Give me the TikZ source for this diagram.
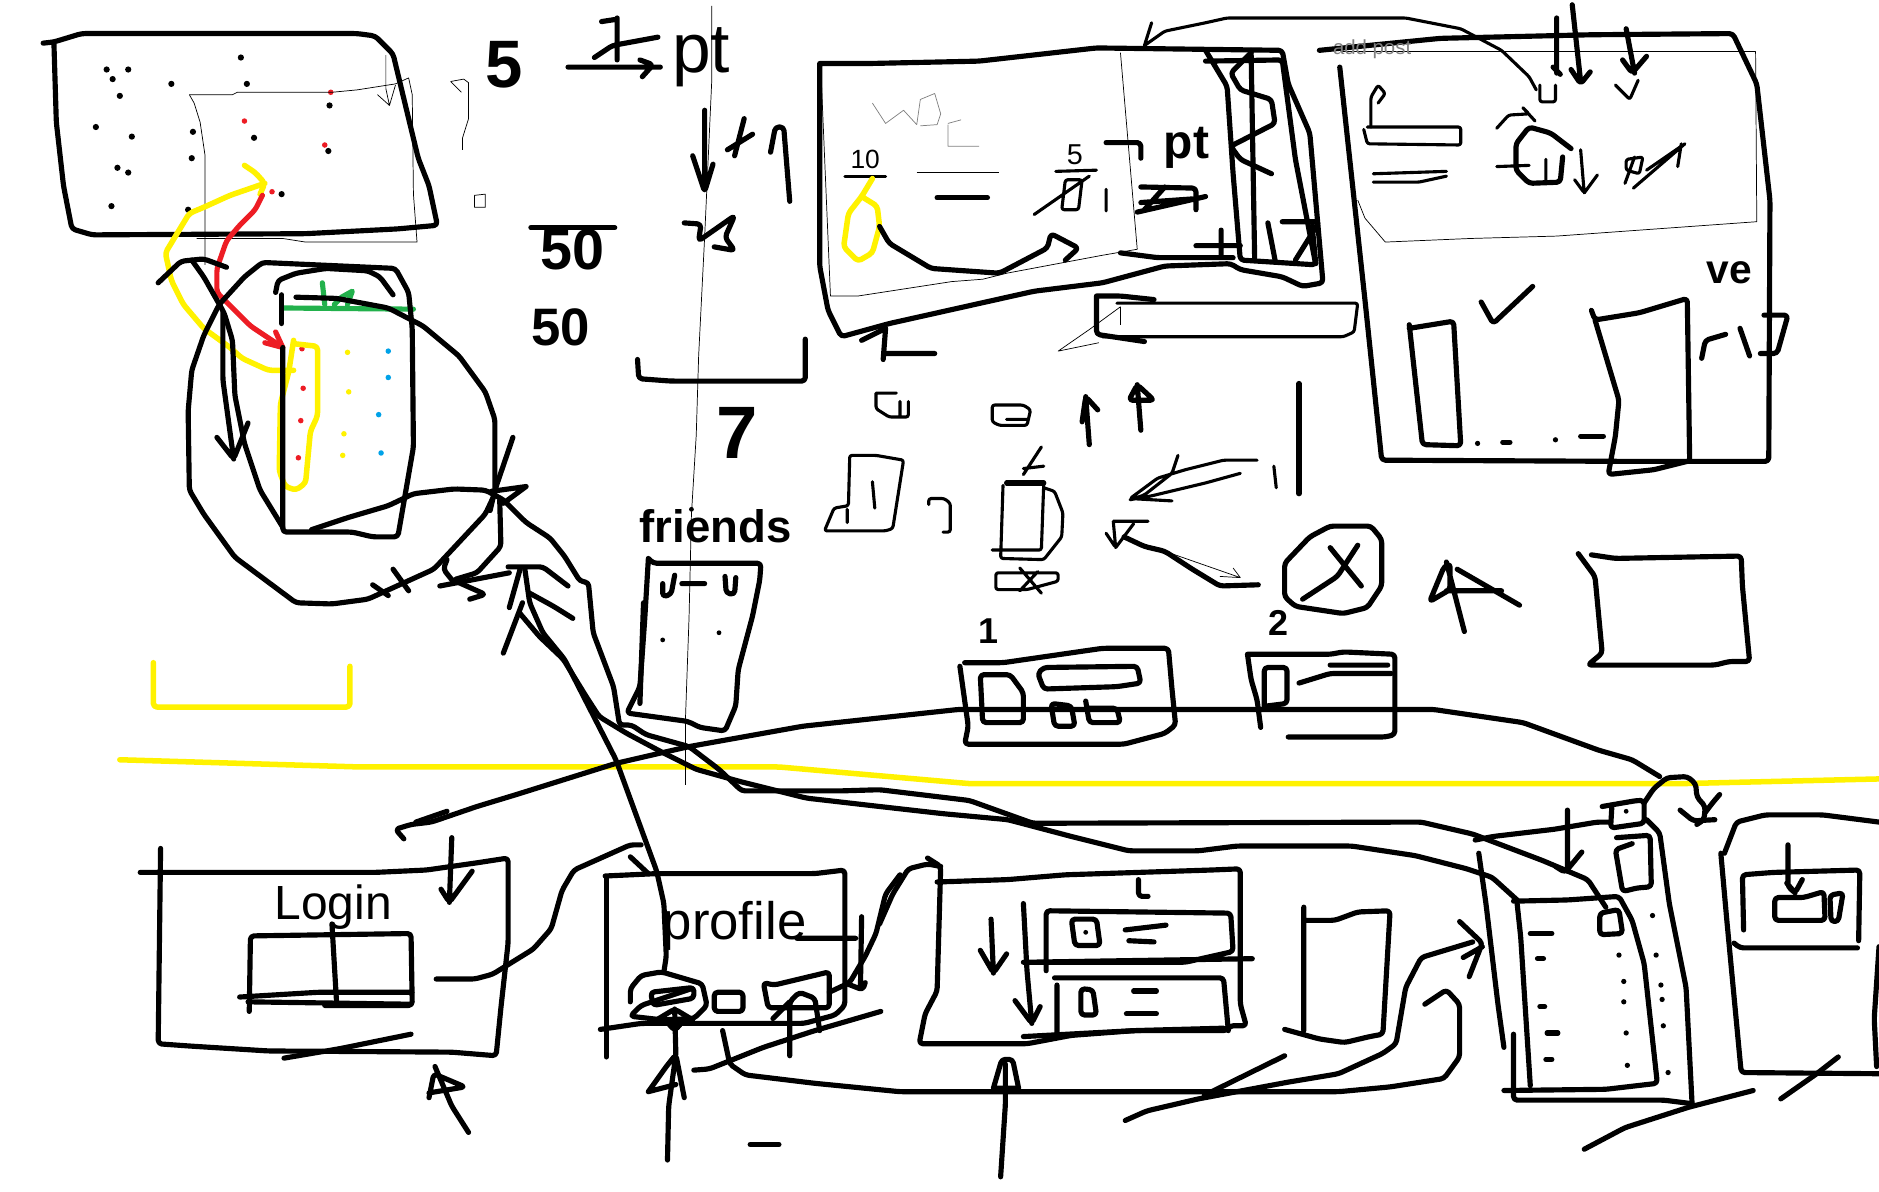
\documentclass[tikz,border=0pt]{standalone}
\usepackage{fontspec}
\setmainfont{Liberation Sans}
\usepackage{xcolor}
\usetikzlibrary{positioning}
\definecolor{marker}{HTML}{FFF200}
\definecolor{redpen}{HTML}{ED1C24}
\definecolor{greenpen}{HTML}{22B14C}
\definecolor{bluepen}{HTML}{00A2E8}
\newcommand{\hw}[1]{\fontsize{#1}{#1}\selectfont}

\begin{document}
\begin{tikzpicture}[x=1pt,y=-1pt,
  ink/.style={line width=4.3pt,line cap=round,line join=round,rounded corners=3pt,black},
  pen/.style={line width=2.6pt,line cap=round,line join=round,rounded corners=2pt,black},
  hair/.style={line width=0.6pt,line join=round,black},
  faint/.style={line width=0.6pt,line join=round,gray},
  yel/.style={line width=4.6pt,line cap=round,line join=round,rounded corners=3pt,marker},
  rdp/.style={line width=4.3pt,line cap=round,line join=round,rounded corners=3pt,redpen},
  grn/.style={line width=4.3pt,line cap=round,line join=round,greenpen},
  hand/.style={inner sep=0pt,black}]
\useasboundingbox (0,0) rectangle (1568,994);
\fill[white] (0,0) rectangle (1568,994);
\draw[yel] (100,634)--(300,640)--(650,640)--(810,654)--(1400,654)--(1568,650);
\draw[yel] (128,553)--(128,590)--(292,590)--(292,556);
\draw[hair] (594,5)--(594,66)--(588,198)--(583,297)--(581,363)--(577,429)--(575,515)--(572,600)--(572,655);

\draw[ink] (36,36)--(45,35)--(68,28)--(298,28)--(313,30)--(328,45)--(341,99)--(349,132)--(358,155)--(365,188)--(332,191)--(255,195)--(77,196)--(60,191)--(53,155)--(47,102)--(45,36);
\foreach \px/\py in {89/58,107/58,94/66,100/80,143/70,201/48,206/70,80/106,110/114,161/110,160/132,212/115,275/88,274/126,98/140,107/144,93/172,157/175,235/162}
  \fill (\px,\py) circle (2.6pt);
\foreach \px/\py in {276/77,204/101,271/121,227/160,252/291,253/324,251/351,249/382}
  \fill[redpen] (\px,\py) circle (2.3pt);
\foreach \px/\py in {290/294,291/327,287/362,286/380}
  \fill[marker] (\px,\py) circle (2.3pt);
\foreach \px/\py in {324/293,324/315,316/346,318/378}
  \fill[bluepen] (\px,\py) circle (2.3pt);
\draw[hair] (158,79)--(194,79)--(198,77)--(277,77)--(298,75)--(330,70)--(341,65)--(344,79)--(345,162)--(348,202)--(255,202)--(236,199)--(164,199);
\draw[hair] (158,79)--(162,86)--(167,102)--(171,129)--(171,221);
\draw[hair] (322,46)--(322,74)--(325,88)--(330,71) (315,79)--(325,88);
\draw[hair] (376,68)--(387,66)--(391,69)--(391,99)--(386,115)--(386,125) (376,68)--(385,77);
\draw[hair] (396,163)--(405,162)--(405,173)--(396,173)--cycle;

\node[hand,font=\hw{56}\bfseries] (five) at (421,54) {5};
\draw[ink] (474,56)--(551,56) (534,50)--(545,54)--(536,64);
\draw[ink] (515,15)--(515,50) (502,18)--(515,16) (496,48)--(511,38)--(549,31);
\node[hand,font=\hw{58}] (ptone) at (585,48) {pt};
\draw[ink] (588,92)--(588,158) (578,130)--(588,160)--(595,137);
\draw[ink] (607,125)--(628,112) (613,130)--(621,99);
\draw[ink] (643,127)--(647,106)--(654,106)--(659,168);
\draw[ink] (571,186)--(585,187)--(583,201)--(613,180)--(605,198)--(613,209)--(596,206);
\draw[ink] (443,190)--(513,190);
\node[hand,font=\hw{48}\bfseries] (fiftyone) at (478,208) {50};
\node[hand,font=\hw{44}\bfseries] (fiftytwo) at (468,273) {50};
\draw[ink] (532,300)--(533,316)--(560,318)--(672,318)--(672,283);
\node[hand,font=\hw{62}\bfseries] (seven) at (615,361) {7};

\draw[yel] (204,138)--(213,144)--(221,153)--(217,162) (221,153)--(192,163)--(170,173)--(158,178)--(138,211)--(143,234)--(153,254)--(170,274)--(192,290)--(202,299)--(224,309)--(245,309);
\draw[yel] (245,284)--(241,310)--(234,337)--(233,393)--(238,406)--(247,409)--(255,403)--(259,360)--(265,347)--(265,289)--(247,287);
\draw[rdp] (219,163)--(213,175)--(200,188)--(189,201)--(181,224)--(181,244)--(196,259)--(209,272)--(236,290);
\draw[rdp,rounded corners=0pt] (221,286)--(236,290)--(230,277);
\draw[grn] (236,257)--(345,258) (269,236)--(271,254) (279,254)--(285,248)--(294,243)--(290,254);

\draw[ink] (328,246)--(317,231)--(307,226)--(272,224)--(247,228)--(232,234)--(230,244);
\draw[ink] (235,246)--(235,270);
\draw[ink] (236,290)--(236,444)--(294,444)--(311,448)--(332,448)--(345,373)--(344,274)--(341,244)--(330,224)--(219,219)--(204,231)--(183,254)--(170,280)--(160,309)--(157,343)--(158,409)--(170,429)--(196,465)--(247,503)--(277,504)--(307,500)--(362,475)--(405,429)--(413,412)--(413,350)--(405,327)--(383,297)--(353,272)--(324,257)--(281,249)--(247,248);
\draw[ink] (236,440)--(217,409)--(204,370)--(196,330)--(194,284)--(187,261)--(170,231)--(160,217);
\draw[ink] (132,236)--(151,218)--(170,216)--(189,223);
\draw[ink] (186,261)--(186,317)--(195,383) (181,365)--(195,383)--(207,353);
\draw[ink] (260,442)--(290,432)--(324,422)--(345,412)--(379,408)--(405,409)--(420,417)--(439,436)--(459,449)--(471,464)--(484,485)--(491,486)--(495,528)--(512,573)--(517,605)--(527,605)--(539,613)--(575,623)--(600,642)--(619,660)--(701,660)--(734,659)--(809,668)--(862,687)--(1186,686)--(1229,696)--(1287,718)--(1325,734)--(1340,757);
\draw[ink] (434,512)--(450,531)--(470,550)--(489,581)--(500,598)--(523,612)--(553,628)--(581,642)--(617,652)--(673,666)--(734,673)--(787,679)--(841,684)--(894,698)--(942,710)--(1000,710)--(1032,706)--(1128,706)--(1181,714)--(1224,725)--(1245,732)--(1266,751);
\draw[ink] (438,475)--(442,503)--(453,528)--(471,550)--(514,634)--(548,727)--(554,754)--(556,798)--(554,811);
\draw[ink] (425,507)--(434,475) (424,473)--(453,473)--(474,489) (420,545)--(436,503) (442,495)--(462,506)--(478,516);
\draw[ink] (367,489)--(425,478);
\draw[ink] (417,417)--(418,456)--(398,478)--(378,484)--(405,496)--(392,500) (373,467)--(370,475)--(378,485);
\draw[ink] (410,410)--(439,406) (439,406)--(420,420) (428,365)--(413,409)--(409,426);
\draw[ink] (328,475)--(341,493) (311,488)--(324,497);
\draw[ink] (337,700)--(330,692)--(343,688)--(360,686)--(398,673)--(431,663)--(514,637)--(553,628)--(575,623)--(670,606)--(800,592)--(1196,592)--(1271,603)--(1334,626)--(1362,634)--(1385,648);
\draw[ink] (373,677)--(347,686);

\node[hand,font=\hw{38}\bfseries] (friends) at (597,439) {friends};
\draw[ink] (541,466)--(545,470)--(635,470)--(634,484)--(628,514)--(616,559)--(614,589)--(605,610)--(584,607)--(574,602)--(523,595)--(534,573)--(538,517)--(541,467);
\draw[ink] (537,503)--(534,587);
\draw[ink] (553,487)--(553,498)--(560,496)--(563,480) (569,487)--(588,487) (605,481)--(606,495)--(613,496)--(614,482);
\fill (553,534) circle (2pt) (600,528) circle (2pt) (577,425) circle (2pt);

\draw[ink] (684,53)--(725,53)--(817,51)--(915,40)--(1070,42)--(1075,70)--(1093,111)--(1104,236)--(1087,239)--(1070,231)--(1035,225)--(1027,220)--(972,222)--(920,236)--(863,243)--(742,270)--(702,281)--(691,259)--(684,222)--(684,53);
\draw[ink] (1006,42)--(1024,72)--(1029,145)--(1035,217)--(1098,221)--(1081,133)--(1070,50)--(1006,51);
\draw[ink] (1044,42)--(1047,217);
\draw[ink] (1044,44)--(1027,61)--(1035,75)--(1061,83)--(1064,103)--(1027,122)--(1035,133)--(1061,145);
\draw[ink] (1058,186)--(1064,217) (1070,185)--(1101,185)--(1081,217) (1095,189)--(1098,220);
\draw[ink] (998,205)--(1035,205) (1019,192)--(1019,214) (935,211)--(966,215)--(1029,215);
\draw[hair] (685,58)--(693,247)--(716,247)--(794,235)--(820,233)--(840,228)--(920,213)--(949,208)--(935,44);
\draw[faint] (728,86)--(739,103)--(754,92)--(765,104)--(768,83)--(780,78)--(785,95)--(782,104)--(768,105) (791,103)--(802,100) (791,104)--(791,122)--(817,122);
\node[hand,font=\hw{22}] (tenlabel) at (722,133) {10};
\draw[pen] (705,147)--(739,147);
\draw[hair] (765,144)--(834,144);
\draw[ink] (782,165)--(824,165);
\draw[yel] (728,149)--(719,164)--(708,178)--(704,206)--(716,218)--(728,211)--(734,189)--(732,172)--(719,164);
\draw[ink] (734,189)--(742,203)--(777,224)--(834,228)--(874,207)--(877,195)--(900,207)--(889,217);
\node[hand,font=\hw{24}] (fivesmall) at (897,129) {5};
\draw[pen] (881,143)--(915,142);
\draw[pen] (889,150)--(903,150)--(900,175)--(886,175)--cycle (863,179)--(909,147) (923,158)--(923,176);
\draw[ink] (923,119)--(952,119)--(952,132);
\node[hand,font=\hw{40}\bfseries] (pttwo) at (990,123) {pt};
\draw[ink] (949,177)--(1006,164) (952,156)--(998,157)--(998,175) (955,175)--(972,156) (952,169)--(995,166);
\draw[ink] (915,247)--(935,247)--(963,250) (915,247)--(915,279)--(955,285);
\draw[pen] (932,253)--(1133,253)--(1130,277)--(1121,281)--(920,281);
\draw[hair] (935,256)--(909,275)--(883,293)--(917,286) (935,256)--(935,271);
\draw[ink] (739,274)--(737,300) (719,284)--(739,274) (739,295)--(780,295);
\draw[pen] (955,38)--(961,19) (955,38)--(972,26)--(1006,19)--(1024,15)--(1173,15)--(1219,24)--(1253,42)--(1276,64)--(1282,75);
\draw[pen] (1285,71)--(1285,85)--(1298,85)--(1298,71);

\draw[ink] (1101,42)--(1202,32)--(1328,29)--(1446,28)--(1466,70)--(1477,167)--(1476,385)--(1357,385)--(1153,384)--(1139,250)--(1118,56);
\draw[hair] (1119,43)--(1465,43)--(1466,185)--(1299,197)--(1227,199)--(1156,202)--(1139,182)--(1133,167);
\node[hand,font=\hw{17},text=gray] (addpost) at (1145,41) {add post};
\draw[ink] (1299,15)--(1299,61) (1296,56)--(1302,62) (1312,4)--(1319,68) (1311,58)--(1319,70)--(1327,60);
\draw[ink] (1357,24)--(1364,61) (1354,50)--(1362,61)--(1374,47);
\draw[pen] (1348,71)--(1360,83)--(1367,67);
\draw[pen] (1144,106)--(1144,81)--(1150,71)--(1156,78)--(1150,86);
\draw[pen] (1141,106)--(1219,106)--(1219,121)--(1141,120)--(1138,108);
\draw[pen] (1146,145)--(1207,143) (1146,152)--(1184,152)--(1207,147);
\draw[ink] (1311,124)--(1294,111)--(1276,106)--(1265,120)--(1265,142)--(1276,153)--(1302,152)--(1304,131);
\draw[pen] (1249,139)--(1276,138) (1290,133)--(1290,151);
\draw[pen] (1249,107)--(1259,96)--(1276,95)--(1270,89)--(1281,101);
\draw[pen] (1319,125)--(1322,161)--(1314,150) (1322,161)--(1333,146);
\draw[pen] (1357,133)--(1371,131)--(1368,145)--(1357,142)--cycle (1356,153)--(1364,131) (1363,157)--(1406,120) (1374,142)--(1403,122) (1400,139)--(1403,120);
\draw[ink] (1236,252)--(1246,270)--(1279,239);
\draw[ink] (1176,274)--(1213,268)--(1219,372)--(1187,371)--(1176,271);
\fill (1233,370) circle (2.2pt) (1298,367) circle (2.2pt);
\draw[ink] (1254,369)--(1260,369) (1319,364)--(1338,364);
\draw[ink] (1328,259)--(1331,267)--(1368,261)--(1408,249)--(1410,385);
\draw[ink] (1331,267)--(1351,334)--(1348,364)--(1342,396)--(1380,392)--(1408,385);
\node[hand,font=\hw{34}\bfseries] (vetext) at (1443,228) {ve};
\draw[ink] (1420,299)--(1423,284)--(1440,279) (1452,274)--(1460,297) (1472,263)--(1492,263)--(1483,295)--(1469,295);

\draw[pen] (731,328)--(748,328) (731,328)--(731,341)--(742,348)--(758,348)--(758,335) (751,335)--(751,348);
\draw[pen] (828,338)--(854,338)--(860,342)--(857,355)--(834,355)--(828,352)--cycle (840,350)--(857,350);
\draw[ink] (909,371)--(906,331) (903,352)--(906,331)--(916,342);
\draw[ink] (952,359)--(949,321) (942,334)--(949,321)--(963,334)--cycle;
\draw[ink] (1084,320)--(1084,412);
\draw[pen] (1063,389)--(1065,407);
\draw[pen] (709,384)--(709,380)--(731,380)--(754,384)--(745,441)--(739,443)--(688,443)--(696,424)--(708,422)--(709,384) (728,402)--(730,424) (707,425)--(707,436);
\draw[pen] (775,421)--(775,416)--(788,416)--(793,420)--(793,444)--(787,444);
\draw[pen] (869,373)--(854,396) (854,391)--(871,389);
\draw[pen] (840,403)--(871,403)--(869,459)--(828,459) (837,405)--(835,466)--(871,467)--(886,448)--(887,428)--(880,410)--(871,407);
\draw[ink] (840,403)--(871,403);
\draw[pen] (831,478)--(831,492)--(857,492)--(883,485)--(883,478)--cycle (851,474)--(869,495) (866,477)--(851,493);
\draw[pen] (1049,384)--(1021,384)--(989,392)--(966,399)--(943,416)--(978,418) (983,380)--(978,395)--(955,413)--(946,416) (1035,395)--(1006,403)--(960,414)--(943,417);
\draw[pen] (929,435)--(958,435) (929,435)--(931,457)--(923,445) (931,457)--(946,437);
\draw[ink] (938,448)--(955,456)--(972,460)--(995,475)--(1018,489)--(1050,488);
\draw[hair] (938,449)--(972,460)--(1035,482)--(1029,474) (1035,482)--(1018,481);
\draw[ink] (1110,439)--(1144,439)--(1153,450)--(1153,489)--(1141,507)--(1121,512)--(1081,506)--(1072,498)--(1072,470)--(1093,448)--cycle;
\draw[ink] (1110,457)--(1136,489) (1133,455)--(1116,481)--(1087,500);
\draw[ink] (1207,469)--(1222,527) (1193,502)--(1205,473)--(1210,470)--(1210,492)--cycle (1216,475)--(1268,505) (1207,493)--(1253,493);
\draw[ink] (1317,462)--(1331,481)--(1337,545)--(1325,555)--(1431,555)--(1443,552)--(1460,552)--(1454,489)--(1453,464)--(1348,466)--(1328,463);
\node[hand,font=\hw{30}\bfseries] (cardone) at (825,527) {1};
\node[hand,font=\hw{30}\bfseries] (cardtwo) at (1067,520) {2};
\draw[ink] (805,553)--(837,553)--(920,541)--(975,541)--(978,575)--(981,605)--(972,612)--(938,621)--(805,621)--(808,606)--(801,556);
\draw[ink] (820,603)--(818,563)--(843,563)--(854,578)--(854,603)--cycle;
\draw[ink] (866,562)--(871,557)--(949,556)--(952,570)--(932,573)--(871,575)--cycle;
\draw[ink] (877,587)--(894,589)--(897,606)--(880,606)--cycle (906,585)--(909,603)--(935,603)--(932,591)--(909,591);
\draw[ink] (1041,546)--(1110,546)--(1121,544)--(1164,546)--(1164,613)--(1156,615)--(1075,615) (1041,546)--(1044,567)--(1049,584)--(1052,607);
\draw[ink] (1055,591)--(1055,557)--(1074,557)--(1074,587)--(1058,589) (1084,570)--(1110,562)--(1161,562) (1110,555)--(1158,555);

\node[hand,font=\hw{40}] (login) at (278,757) {Login};
\draw[ink] (117,728)--(313,728)--(356,726)--(398,720)--(424,716)--(424,787)--(418,841)--(414,881)--(377,878)--(224,877)--(160,873)--(132,871)--(134,708);
\draw[ink] (377,699)--(375,753) (368,742)--(375,753)--(394,727);
\draw[ink] (208,844)--(209,781)--(343,779)--(344,839)--(271,839) (200,832)--(266,828)--(344,828) (207,836)--(343,838);
\draw[ink] (277,771)--(281,839);
\draw[ink] (237,883)--(284,875)--(343,863);
\draw[ink] (363,890)--(377,923)--(391,945) (358,916)--(362,896)--(388,907)--(358,912);
\draw[ink] (364,817)--(396,817)--(411,813)--(445,792)--(460,775)--(469,743)--(479,726)--(526,705)--(535,705) (526,715)--(541,729);

\node[hand,font=\hw{44}] (profile) at (613,773) {profile};
\draw[ink] (505,731)--(548,729)--(680,729)--(705,726)--(705,839)--(697,847)--(671,854)--(535,854)--(501,859);
\draw[ink] (506,733)--(506,882);
\draw[ink] (665,783)--(714,783) (719,765)--(718,825) (707,821)--(720,826)--(722,820);
\draw[ink] (526,836)--(526,825)--(535,814)--(552,811)--(586,821)--(590,839)--(579,850)--(552,851)--(526,848)--(535,839)--(577,825);
\draw[ink] (543,828)--(579,824)--(579,833)--(545,839)--cycle;
\draw[ink] (548,851)--(563,842)--(578,851) (555,851)--(563,860)--(571,851);
\draw[ink] (596,828)--(620,828)--(620,844)--(596,844)--cycle;
\draw[ink] (637,820)--(646,822)--(692,811)--(692,841)--(641,841)--cycle;
\draw[ink] (659,881)--(659,836)--(667,828)--(680,833)--(684,860) (645,850)--(659,836);
\draw[ink] (557,968)--(558,923)--(564,880)--(563,842) (541,911)--(556,890)--(564,880)--(571,916) (541,911)--(564,905);
\draw[ink] (626,955)--(650,955);
\draw[ink] (579,893)--(592,892)--(637,874)--(680,860)--(735,844);
\draw[ink] (751,730)--(739,746)--(731,779)--(722,798)--(709,820)--(692,828);

\draw[ink] (774,716)--(785,723)--(782,827)--(772,846)--(767,871)--(857,871)--(894,864)--(947,860)--(1024,860)--(1026,856)--(1040,856)--(1035,838)--(1035,725)--(1011,726)--(889,730)--(841,734)--(782,736);
\draw[ink] (734,771)--(745,746)--(758,725)--(774,721)--(785,723);
\draw[ink] (873,810)--(873,760)--(1027,762)--(1029,794)--(989,803)--(854,803) (854,803)--(1045,800);
\draw[ink] (854,754)--(857,810)--(861,854) (847,835)--(861,854)--(868,840);
\draw[ink] (827,767)--(829,812) (818,793)--(829,812)--(840,796);
\draw[ink] (880,816)--(1021,816)--(1025,860) (882,822)--(882,861) (854,865)--(947,860)--(1021,858);
\draw[ink] (894,767)--(915,767)--(918,789)--(897,789)--cycle;
\fill (906,778) circle (2pt);
\draw[ink] (939,776)--(973,772) (942,785)--(963,786);
\draw[ink] (902,825)--(912,826)--(915,847)--(902,847)--cycle;
\draw[ink] (946,827)--(965,827) (940,846)--(965,846);
\draw[ink] (950,734)--(950,748)--(958,748);
\draw[ink] (835,982)--(839,921)--(839,888);
\draw[ink] (829,908)--(836,884)--(845,884)--(850,908) (829,908)--(850,908);
\draw[ink] (1088,757)--(1088,860) (1088,768)--(1114,768)--(1133,761)--(1160,760)--(1154,863)--(1143,865)--(1122,870)--(1101,867)--(1072,859);
\draw[ink] (603,860)--(609,888)--(622,897)--(680,904)--(751,911)--(1117,911)--(1160,907)--(1205,900)--(1218,882)--(1218,838)--(1207,826)--(1189,838);
\draw[ink] (939,935)--(957,927)--(1000,917)--(1075,903)--(1117,896)--(1154,879)--(1165,871)--(1173,824)--(1186,799)--(1229,786);
\draw[ink] (1218,769)--(1237,787)--(1226,815) (1221,799)--(1237,790);
\draw[ink] (1005,914)--(1072,881);

\draw[ink] (1263,752)--(1308,751)--(1351,748)--(1362,768)--(1372,804)--(1383,904)--(1340,909)--(1255,910);
\draw[ink] (1266,754)--(1269,782)--(1277,906);
\draw[ink] (1263,863)--(1263,918)--(1388,918)--(1412,921);
\draw[ink] (1322,959)--(1356,941)--(1409,924)--(1463,910);
\draw[ink] (1335,762)--(1351,759)--(1354,779)--(1335,780)--cycle;
\draw[ink] (1277,779)--(1295,779) (1283,800)--(1288,800) (1285,840)--(1289,840) (1291,862)--(1300,862) (1290,884)--(1295,884);
\foreach \px/\py in {1351/797,1355/819,1355/836,1357/862,1358/889,1379/764,1382/797,1386/822,1387/834,1388/856,1392/895}
  \fill (\px,\py) circle (2.2pt);
\draw[ink] (1234,712)--(1240,754)--(1250,838)--(1255,874);
\draw[ink] (1231,701)--(1246,698)--(1297,692)--(1333,686)--(1344,686);
\draw[ink] (1308,676)--(1308,727) (1298,723)--(1306,728)--(1320,711);
\draw[ink] (1337,673)--(1366,668)--(1372,668)--(1372,687)--(1344,691)--(1345,674);
\fill (1357,677) circle (2pt);
\draw[ink] (1349,699)--(1377,697)--(1378,740)--(1366,741)--(1354,744)--(1348,709)--(1362,704);
\draw[ink] (1372,670)--(1380,658)--(1391,649)--(1408,648)--(1415,654)--(1416,665)--(1423,673)--(1422,684)--(1416,688);
\draw[ink] (1402,676)--(1413,685)--(1431,684) (1423,678)--(1429,670)--(1435,663);
\draw[ink] (1374,684)--(1385,695)--(1393,754)--(1407,824)--(1412,921);
\draw[ink] (1439,712)--(1449,686)--(1473,680)--(1521,680)--(1568,686);
\draw[ink] (1436,712)--(1441,768)--(1453,895)--(1568,896);
\draw[ink] (1568,790)--(1564,850)--(1566,890);
\draw[ink] (1455,776)--(1454,730)--(1480,728)--(1552,726)--(1551,785) (1447,787)--(1452,791)--(1550,791);
\draw[ink] (1492,705)--(1492,740)--(1498,745) (1491,737)--(1498,745)--(1504,734);
\draw[ink] (1481,749)--(1505,749)--(1522,744)--(1523,768)--(1481,768)--cycle;
\draw[ink] (1527,747)--(1538,745)--(1534,769)--(1528,769)--cycle;
\draw[ink] (1486,917)--(1516,896)--(1534,882);
\end{tikzpicture}
\end{document}
